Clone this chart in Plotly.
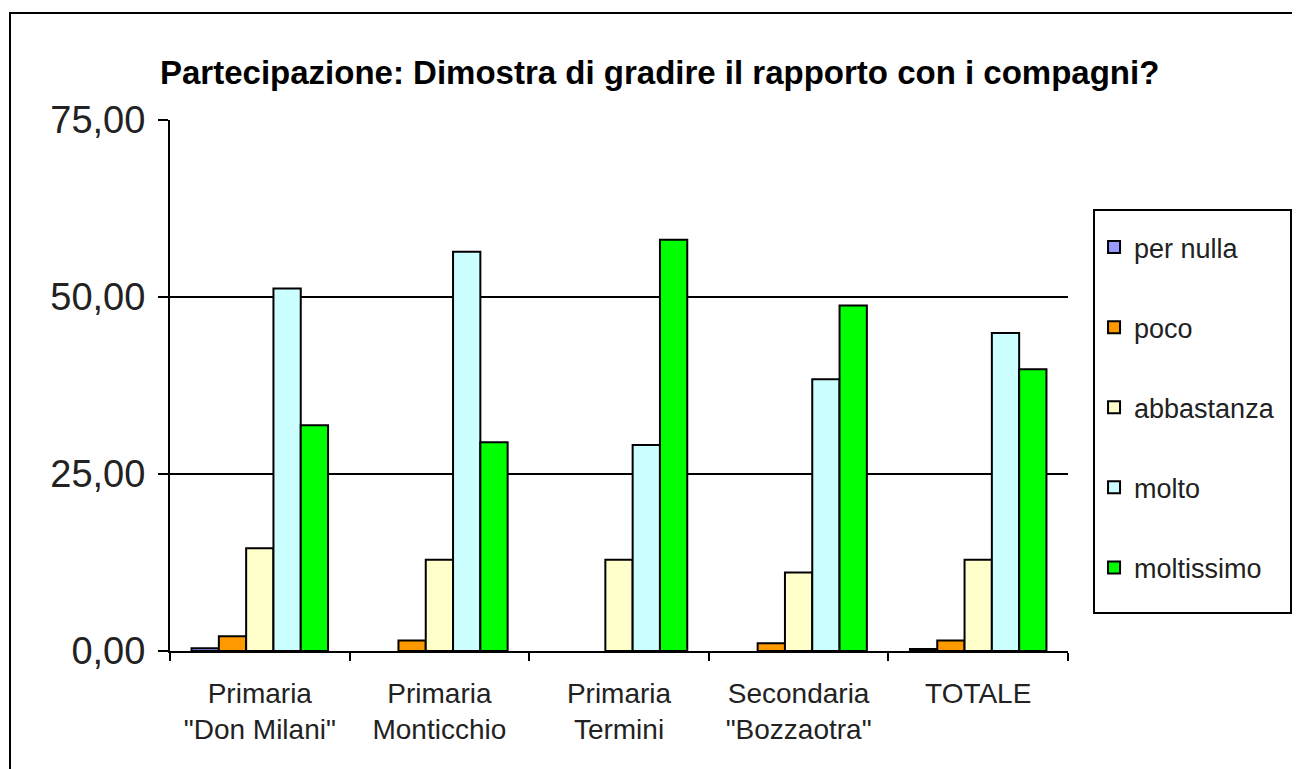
import plotly.graph_objects as go

categories = ["Primaria<br>\"Don Milani\"", "Primaria<br>Monticchio", "Primaria<br>Termini",
              "Secondaria<br>\"Bozzaotra\"", "TOTALE"]

per_nulla = [0.4, 0, 0, 0, 0.3]
poco = [2.1, 1.5, 0, 1.1, 1.5]
abbastanza = [14.5, 12.9, 12.9, 11.1, 12.9]
molto = [51.2, 56.4, 29.1, 38.4, 44.9]
moltissimo = [31.9, 29.5, 58.1, 48.8, 39.8]

series = [
    ("per nulla", per_nulla, "#9999FF"),
    ("poco", poco, "#FF9900"),
    ("abbastanza", abbastanza, "#FFFFCC"),
    ("molto", molto, "#CCFFFF"),
    ("moltissimo", moltissimo, "#00FF00"),
]

fig = go.Figure()
for name, vals, col in series:
    # zero values get no outline, so nothing is drawn for them
    widths = [2 if v > 0 else 0 for v in vals]
    fig.add_trace(go.Bar(x=categories, y=vals, name=name, legendgroup=name,
                         marker=dict(color=col, line=dict(color="black", width=widths))))

font = "Liberation Sans, Arial, sans-serif"

# page body has an 8px margin, so the figure is 8px smaller than the window
W, H = 1292, 761
fig.update_layout(
    width=W, height=H,
    margin=dict(l=162, r=232, t=112, b=118),
    paper_bgcolor="white", plot_bgcolor="white",
    separators=",.",
    barmode="group", bargap=0.24, bargroupgap=0,
    font=dict(family=font, color="#222"),
    title=dict(text="<b>Partecipazione: Dimostra di gradire il rapporto con i compagni?</b>",
               x=152 / W, xref="container", xanchor="left", y=1 - 64 / H, yanchor="middle",
               font=dict(size=33, color="black")),
    legend=dict(x=1.029, y=0.806, xanchor="left", yanchor="top",
                borderwidth=0, bgcolor="rgba(0,0,0,0)",
                font=dict(size=27, color="#222"), tracegroupgap=42,
                itemwidth=30),
    showlegend=True,
)

fig.update_yaxes(range=[0, 75], tickvals=[0, 25, 50, 75], tickformat=".2f",
                 showgrid=True, gridcolor="black", gridwidth=2,
                 showline=True, linecolor="black", linewidth=2,
                 ticks="outside", ticklen=10, tickwidth=2, tickcolor="black",
                 ticklabelstandoff=5,
                 tickfont=dict(size=38, color="#222"), zeroline=False)
fig.update_xaxes(showline=True, linecolor="black", linewidth=2,
                 ticks="outside", tickson="boundaries", ticklen=8, tickwidth=2, tickcolor="black",
                 ticklabelstandoff=16,
                 tickfont=dict(size=28, color="#222"))

# outer frame of the chart (right and bottom edges fall outside the picture)
fig.add_shape(type="rect", xref="paper", yref="paper",
              x0=(2 - 162) / 898, x1=(1330 - 162) / 898,
              y0=(643 - 800) / 531, y1=(643 - 5) / 531,
              line=dict(color="black", width=2))

# legend box
fig.add_shape(type="rect", xref="paper", yref="paper",
              x0=(1086 - 162) / 898, x1=(1283 - 162) / 898,
              y0=(643 - 605) / 531, y1=(643 - 202) / 531,
              line=dict(color="black", width=2))

fig.write_html("out.html")
